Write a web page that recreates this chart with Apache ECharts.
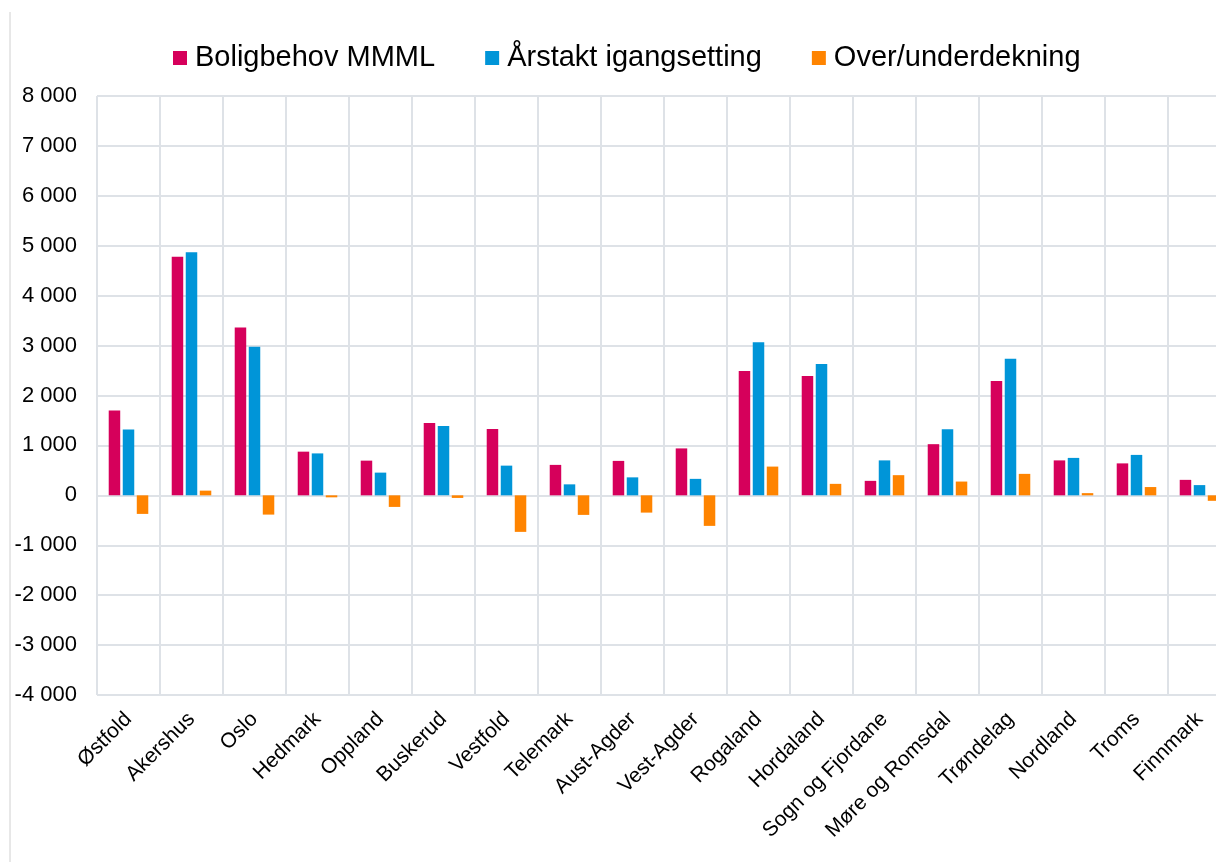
<!DOCTYPE html>
<html>
<head>
<meta charset="utf-8">
<script src="https://cdn.jsdelivr.net/npm/echarts@6/dist/echarts.min.js"></script>
<style>
html,body{margin:0;padding:0;background:#fff;overflow:hidden;width:1216px;height:862px;}
#chart{width:1240px;height:862px;}
</style>
</head>
<body>
<div id="chart"></div>
<script>
const categories = ['Østfold','Akershus','Oslo','Hedmark','Oppland','Buskerud','Vestfold','Telemark','Aust-Agder','Vest-Agder','Rogaland','Hordaland','Sogn og Fjordane','Møre og Romsdal','Trøndelag','Nordland','Troms','Finnmark'];
const seriesNames = ['Boligbehov MMML','Årstakt igangsetting','Over/underdekning'];
const boligbehov = [1700,4780,3360,875,695,1450,1330,610,690,940,2490,2390,290,1025,2290,700,640,310];
const arstakt = [1320,4870,2975,840,455,1390,595,220,360,330,3065,2630,700,1325,2735,750,810,205];
const overUnder = [-372,94,-386,-40,-232,-52,-732,-392,-346,-612,576,230,404,276,430,44,166,-110];
const yMin = -4000, yMax = 8000, yStep = 1000;

const colors = ['#D6005B','#0095D8','#FF8400'];
const gridColor = '#DEE2E7';
const chart = echarts.init(document.getElementById('chart'));
const fmt = v => {
  const s = Math.abs(v).toString().replace(/\B(?=(\d{3})+(?!\d))/g, ' ');
  return (v < 0 ? '-' : '') + s;
};
chart.setOption({
  animation: false,
  color: colors,
  textStyle: {fontFamily: '"Liberation Sans", Arial, sans-serif', color: '#000'},
  graphic: [{
    type: 'line', shape: {x1: 10, y1: 12, x2: 10, y2: 862},
    style: {stroke: '#D0D0D0', lineWidth: 1}
  }],
  legend: {
    left: 168, top: 38,
    itemWidth: 14, itemHeight: 14, itemGap: 50,
    icon: 'rect',
    textStyle: {fontSize: 29, lineHeight: 30, color: '#000', padding: [0,0,0,3]},
    data: seriesNames
  },
  grid: {left: 97, top: 96, width: 1134, height: 599, containLabel: false},
  xAxis: {
    type: 'category', data: categories,
    axisLine: {show: true, lineStyle: {color: gridColor, width: 2}},
    axisTick: {show: false},
    splitLine: {show: true, lineStyle: {color: gridColor, width: 2}},
    axisLabel: {rotate: 45, fontSize: 21, color: '#000', margin: 21, interval: 0}
  },
  yAxis: {
    type: 'value', min: yMin, max: yMax, interval: yStep,
    axisLine: {show: false}, axisTick: {show: false},
    splitLine: {lineStyle: {color: gridColor, width: 2}},
    axisLabel: {fontSize: 22, color: '#000', margin: 20, formatter: fmt}
  },
  series: [
    {name: seriesNames[0], type: 'bar', data: boligbehov, barWidth: 11.5, barGap: '22%'},
    {name: seriesNames[1], type: 'bar', data: arstakt, barWidth: 11.5, barGap: '22%'},
    {name: seriesNames[2], type: 'bar', data: overUnder, barWidth: 11.5, barGap: '22%'}
  ]
});
</script>
</body>
</html>
